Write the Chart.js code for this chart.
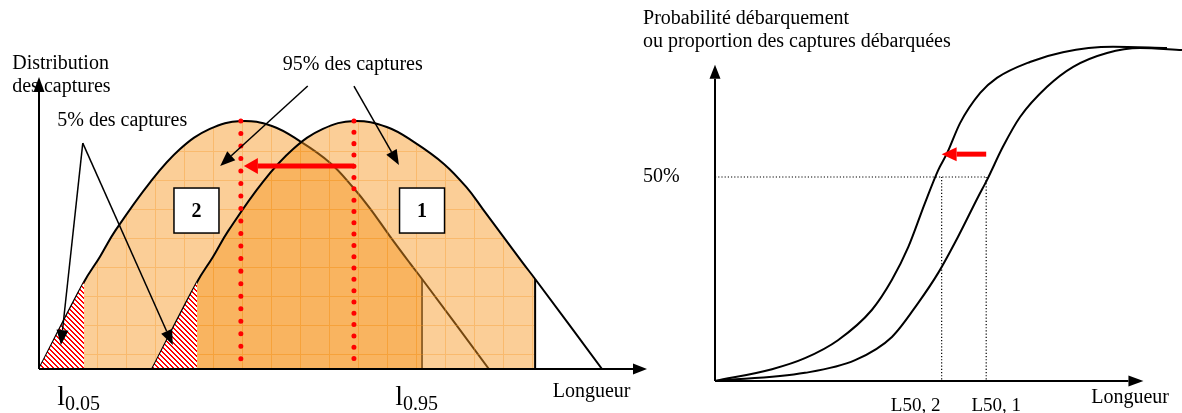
<!DOCTYPE html>
<html>
<head>
<meta charset="utf-8">
<script src="https://cdn.jsdelivr.net/npm/chart.js@4.4.1/dist/chart.umd.min.js"></script>
<style>
body{margin:0;background:#fff;width:1182px;height:413px;position:relative;overflow:hidden}
canvas{position:absolute;top:0}
#left{left:0}
#right{left:635px}
</style>
</head>
<body>
<canvas id="left" width="650" height="413"></canvas>
<canvas id="right" width="547" height="413"></canvas>
<script>
// distribution des captures en longueur (% du mode), avant (1) et apres (2)
const curve2X = [0, 7.4, 10.0, 12.5, 18.3, 23.2, 28.1, 33.2, 38.3, 42.9, 47.9, 51.6, 54.4, 57.7, 61.0, 63.0, 74.0]
const curve2Y = [0, 35.1, 45.2, 55.6, 75.4, 88.7, 96.8, 100, 98.0, 91.9, 83.1, 73.4, 64.9, 53.6, 42.7, 36.3, 0]
const curve1X = [18.6, 26.0, 28.6, 31.1, 36.8, 41.8, 46.7, 51.8, 57.2, 61.7, 66.6, 70.4, 73.0, 76.3, 79.6, 81.6, 92.6]
const curve1Y = [0, 35.1, 45.2, 55.6, 75.4, 88.7, 96.8, 100, 97.6, 91.5, 82.7, 73.0, 64.5, 53.6, 42.7, 36.3, 0]
const l05 = [7.4, 26.0]    // l0.05 : courbe 2, courbe 1
const l95 = [63.0, 81.6]   // l0.95
const modes = [33.2, 51.8]

// ogives de selection (% debarque)
const ogive2X = [0, 13.3, 21.0, 28.7, 36.6, 41.3, 45.1, 49.0, 52.1, 54.2, 57.2, 61.9, 65.8, 73.5, 81.2, 92.9, 105.5]
const ogive2Y = [0, 2.9, 5.6, 10.0, 17.4, 24.8, 32.8, 43.6, 51.7, 55.9, 63.2, 70.6, 74.3, 78.2, 80.6, 81.9, 81.6]
const ogive1X = [0, 21.0, 32.7, 41.3, 47.4, 52.1, 56.7, 61.4, 63.5, 67.2, 71.2, 77.5, 83.6, 91.5, 99.2, 109]
const ogive1Y = [0, 2.0, 5.1, 10.8, 19.1, 26.5, 35.3, 45.1, 49.3, 57.4, 64.7, 72.1, 77.0, 80.4, 81.6, 81.1]
const L50 = [52.9, 63.3]   // L50,2 et L50,1
const tick50 = 50

const SERIF = '"Liberation Serif", "Times New Roman", serif'

const pts = (xs, ys) => xs.map((x, i) => ({x, y: ys[i]}))

function gridPattern() {
  const c = document.createElement('canvas')
  c.width = 29; c.height = 29
  const g = c.getContext('2d')
  g.fillStyle = 'rgba(247,150,35,0.47)'
  g.fillRect(0, 0, 29, 29)
  g.fillStyle = 'rgba(247,150,35,0.35)'
  g.fillRect(0, 0, 29, 1)
  g.fillRect(0, 1, 1, 28)
  const p = g.createPattern(c, 'repeat')
  p.setTransform(new DOMMatrix().translate(10, 6))
  return p
}

function hatchPattern() {
  const c = document.createElement('canvas')
  c.width = 5; c.height = 5
  const g = c.getContext('2d')
  g.fillStyle = '#fff'
  g.fillRect(0, 0, 5, 5)
  g.fillStyle = '#f00'
  for (let y = 0; y < 5; y++)
    for (let x = 0; x < 5; x++)
      if ((((x - y) % 5) + 5) % 5 < 2) g.fillRect(x, y, 1, 1)
  return g.createPattern(c, 'repeat')
}

function arrow(ctx, x1, y1, x2, y2, len, wid, color, lw) {
  const a = Math.atan2(y2 - y1, x2 - x1)
  const bx = x2 - len * Math.cos(a), by = y2 - len * Math.sin(a)
  ctx.save()
  ctx.strokeStyle = color
  ctx.fillStyle = color
  ctx.lineWidth = lw
  ctx.beginPath(); ctx.moveTo(x1, y1); ctx.lineTo(bx, by); ctx.stroke()
  ctx.beginPath()
  ctx.moveTo(x2, y2)
  ctx.lineTo(bx + wid / 2 * Math.sin(a), by - wid / 2 * Math.cos(a))
  ctx.lineTo(bx - wid / 2 * Math.sin(a), by + wid / 2 * Math.cos(a))
  ctx.closePath(); ctx.fill()
  ctx.restore()
}

function txt(ctx, s, x, y, size, align, weight) {
  ctx.save()
  ctx.font = (weight || '') + ' ' + size + 'px ' + SERIF
  ctx.fillStyle = '#000'
  ctx.textAlign = align || 'left'
  ctx.textBaseline = 'alphabetic'
  ctx.fillText(s, x, y)
  ctx.restore()
}

// l avec indice
function lsub(ctx, sub, x, y) {
  txt(ctx, 'l', x, y, 28)
  ctx.font = '28px ' + SERIF
  const w = ctx.measureText('l').width
  txt(ctx, sub, x + w, y + 5, 20)
}

function box(ctx, cx, cy, label) {
  ctx.save()
  ctx.fillStyle = '#fff'
  ctx.strokeStyle = '#000'
  ctx.lineWidth = 1.5
  ctx.fillRect(cx - 22.5, cy - 22.5, 45, 45)
  ctx.strokeRect(cx - 22.5, cy - 22.5, 45, 45)
  ctx.font = 'bold 20px ' + SERIF
  ctx.fillStyle = '#000'
  ctx.textAlign = 'center'
  ctx.textBaseline = 'middle'
  ctx.fillText(label, cx, cy + 1)
  ctx.restore()
}

const leftDeco = {
  id: 'leftDeco',
  afterDatasetsDraw(chart) {
    const {ctx, scales: {x, y}} = chart
    const X = v => x.getPixelForValue(v), Y = v => y.getPixelForValue(v)

    txt(ctx, 'Distribution', X(-4.4), Y(121.0), 20)
    txt(ctx, 'des captures', X(-4.4), Y(111.7), 20)
    txt(ctx, '95% des captures', X(40.1), Y(120.6), 20)
    txt(ctx, '5% des captures', X(3.0), Y(98.0), 20)
    txt(ctx, 'Longueur', X(84.5), Y(-11.3), 20)
    lsub(ctx, '0.05', X(3.0), Y(-14.5))
    lsub(ctx, '0.95', X(58.6), Y(-14.5))

    // axes
    arrow(ctx, X(0), Y(0), X(100), Y(0), 14, 11, '#000', 2)
    arrow(ctx, X(0), Y(0), X(0), Y(117.7), 15, 11, '#000', 2)

    // decalage du mode
    arrow(ctx, X(modes[1]), Y(81.9), X(33.7), Y(81.9), 14, 16, '#f00', 5)

    // fleches des legendes
    arrow(ctx, X(44.2), Y(114.1), X(29.8), Y(81.9), 15, 12, '#000', 1.5)
    arrow(ctx, X(51.8), Y(114.1), X(59.2), Y(82.3), 15, 12, '#000', 1.5)
    arrow(ctx, X(7.2), Y(91.1), X(3.6), Y(9.7), 15, 12, '#000', 1.5)
    arrow(ctx, X(7.2), Y(91.1), X(22.0), Y(9.7), 15, 12, '#000', 1.5)

    box(ctx, X(25.9), Y(63.9), '2')
    box(ctx, X(63.0), Y(63.9), '1')
  }
}

const rightDeco = {
  id: 'rightDeco',
  afterDatasetsDraw(chart) {
    const {ctx, scales: {x, y}} = chart
    const X = v => x.getPixelForValue(v), Y = v => y.getPixelForValue(v)

    txt(ctx, 'Probabilité débarquement', X(-16.8), Y(87.5), 20)
    txt(ctx, 'ou proportion des captures débarquées', X(-16.8), Y(81.9), 20)
    txt(ctx, tick50 + '%', X(-16.8), Y(48.8), 20)
    txt(ctx, 'L50, 2', X(L50[0]) - 26, Y(-7.4), 19, 'center')
    txt(ctx, 'L50, 1', X(L50[1]) + 10, Y(-7.4), 19, 'center')
    txt(ctx, 'Longueur', X(87.8), Y(-5.4), 20)

    arrow(ctx, X(0), Y(0), X(100), Y(0), 15, 11, '#000', 2)
    arrow(ctx, X(0), Y(0), X(0), Y(77.5), 14, 11, '#000', 2)

    arrow(ctx, X(L50[1]), Y(55.6), X(L50[0]), Y(55.6), 15, 14, '#f00', 5)
  }
}

function scatterChart(id, datasets, xr, yr, pad, deco) {
  return new Chart(document.getElementById(id), {
    type: 'scatter',
    data: {datasets},
    options: {
      responsive: false,
      animation: false,
      events: [],
      layout: {padding: pad},
      plugins: {legend: {display: false}, tooltip: {enabled: false}},
      scales: {
        x: {type: 'linear', min: xr[0], max: xr[1], display: false},
        y: {type: 'linear', min: yr[0], max: yr[1], display: false}
      }
    },
    plugins: [deco]
  })
}

const grid = gridPattern()
const hatch = hatchPattern()
const none = 'rgba(0,0,0,0)'

const full2 = pts(curve2X, curve2Y)
const full1 = pts(curve1X, curve1Y)
const yAt = (p, v) => p.find(q => q.x === v).y

function curveSets(full, i, order) {
  const line = {showLine: true, pointRadius: 0, tension: 0.4}
  return [
    {...line, data: full.filter(p => p.x >= l05[i] && p.x <= l95[i]), fill: 'origin',
      backgroundColor: grid, borderColor: none, borderWidth: 0, order: order + 3},
    {...line, data: full, fill: false, borderColor: '#000', borderWidth: 2, order: order + 2},
    {showLine: true, pointRadius: 0, tension: 0, fill: false, borderColor: '#000',
      borderWidth: i === 0 ? 1.5 : 2, order: order + 1,
      data: [{x: l95[i], y: 0}, {x: l95[i], y: yAt(full, l95[i])}]},
    {showLine: true, pointRadius: 0, tension: 0, fill: 'origin', backgroundColor: hatch,
      borderColor: none, borderWidth: 0, order: 3,
      data: full.filter(p => p.x <= l05[i])}
  ]
}

const dots = (m, gap) => ({
  showLine: true, pointRadius: 0, tension: 0, fill: false,
  borderColor: '#f00', borderWidth: 5, borderDash: [0.01, gap], borderCapStyle: 'round',
  order: 1, data: [{x: m, y: 100}, {x: m, y: 0}]
})

scatterChart('left', [
  ...curveSets(full2, 0, 10),
  ...curveSets(full1, 1, 5),
  dots(modes[0], 12.5),
  dots(modes[1], 11.3)
], [0, 100], [0, 120], {left: 39, right: 3, top: 71.4, bottom: 44}, leftDeco)

const dotted = data => ({
  showLine: true, pointRadius: 0, tension: 0, fill: false,
  borderColor: '#000', borderWidth: 1.2, borderDash: [1.2, 2], data
})
const ogive = data => ({
  showLine: true, pointRadius: 0, cubicInterpolationMode: 'monotone', fill: false,
  borderColor: '#000', borderWidth: 2, data
})

scatterChart('right', [
  ogive(pts(ogive2X, ogive2Y)),
  ogive(pts(ogive1X, ogive1Y)),
  dotted([{x: 0, y: tick50}, {x: L50[1], y: tick50}]),
  dotted([{x: L50[0], y: -2}, {x: L50[0], y: tick50}]),
  dotted([{x: L50[1], y: -2}, {x: L50[1], y: tick50}])
], [0, 109], [0, 85], {left: 80, right: 0, top: 34.2, bottom: 32}, rightDeco)
</script>
</body>
</html>
